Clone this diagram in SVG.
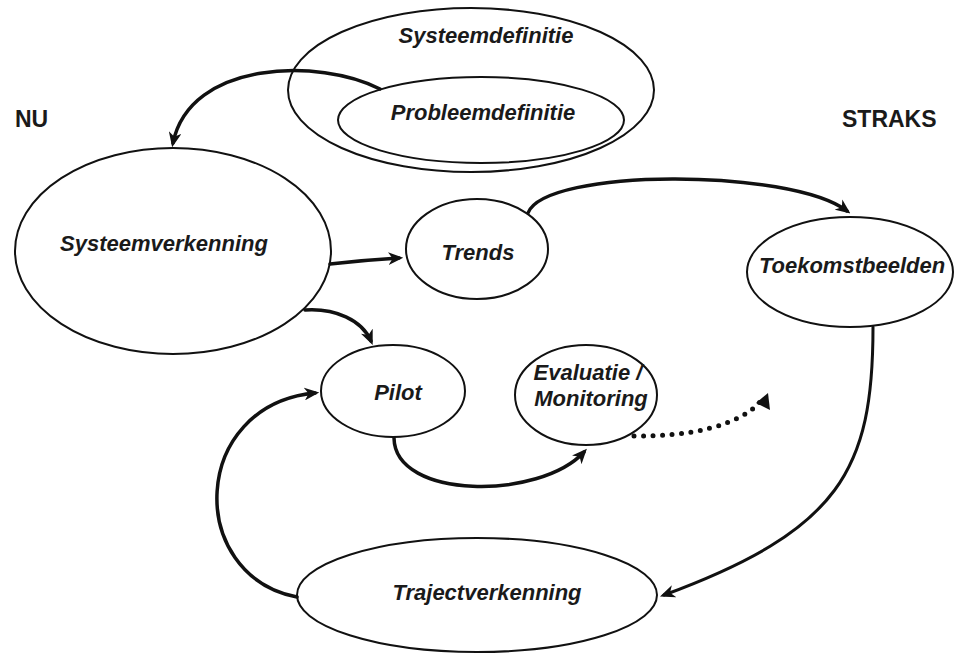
<svg xmlns="http://www.w3.org/2000/svg" width="955" height="653" viewBox="0 0 955 653">
<style>
.node{fill:none;stroke:#111;stroke-width:2}
.lbl{font-family:"Liberation Sans",Arial,sans-serif;font-weight:bold;font-style:italic;font-size:22px;fill:#1a1a1a;text-anchor:middle}
.side{font-family:"Liberation Sans",Arial,sans-serif;font-weight:bold;font-size:23px;fill:#1a1a1a}
.conn{fill:none;stroke:#111;stroke-width:3.5;stroke-linecap:round}
.dot{fill:none;stroke:#111;stroke-width:5;stroke-linecap:round;stroke-dasharray:0 9.5}
</style>
<defs>
<marker id="ah" viewBox="0 0 14 12" refX="10" refY="6" markerWidth="15" markerHeight="13" markerUnits="userSpaceOnUse" orient="auto">
<path d="M0,0 L14,6 L0,12 L4,6 z" fill="#111"/>
</marker>
</defs>
<rect width="955" height="653" fill="#fff"/>
<g id="nu"><text class="side" x="15" y="127">NU</text></g>
<g id="straks"><text class="side" x="842" y="127">STRAKS</text></g>
<g id="systeemdefinitie">
<ellipse class="node" cx="471" cy="90" rx="183" ry="82"/>
<text class="lbl" x="486" y="43">Systeemdefinitie</text>
</g>
<g id="probleemdefinitie">
<ellipse class="node" cx="481" cy="120" rx="143" ry="43"/>
<text class="lbl" x="483" y="120">Probleemdefinitie</text>
</g>
<g id="systeemverkenning">
<ellipse class="node" cx="173" cy="251" rx="158" ry="103"/>
<text class="lbl" x="164" y="251">Systeemverkenning</text>
</g>
<g id="trends">
<ellipse class="node" cx="477" cy="249" rx="71" ry="50"/>
<text class="lbl" x="478" y="260">Trends</text>
</g>
<g id="toekomstbeelden">
<ellipse class="node" cx="850" cy="272" rx="103" ry="55"/>
<text class="lbl" x="852" y="273">Toekomstbeelden</text>
</g>
<g id="pilot">
<ellipse class="node" cx="393" cy="391" rx="72" ry="46"/>
<text class="lbl" x="398" y="400">Pilot</text>
</g>
<g id="evaluatie">
<ellipse class="node" cx="586" cy="395" rx="71" ry="50"/>
<text class="lbl" x="588" y="380">Evaluatie /</text>
<text class="lbl" x="591" y="406">Monitoring</text>
</g>
<g id="trajectverkenning">
<ellipse class="node" cx="477" cy="595" rx="180" ry="57"/>
<text class="lbl" x="487" y="600">Trajectverkenning</text>
</g>
<g id="connectors">
<path class="conn" d="M380,89 C320,58 190,60 173,143" marker-end="url(#ah)"/>
<path class="conn" d="M330,264 Q365,260 399,258" marker-end="url(#ah)"/>
<path class="conn" d="M305,310 C335,308 362,320 371,341" marker-end="url(#ah)"/>
<path class="conn" d="M528,213 C545,168 790,168 847,211" marker-end="url(#ah)"/>
<path class="conn" style="stroke-width:3" d="M873,327 C873,470 840,530 664,595" marker-end="url(#ah)"/>
<path class="conn" d="M297,597 C185,575 190,405 315,393" marker-end="url(#ah)"/>
<path class="conn" d="M394,438 C395,500 540,500 584,452" marker-end="url(#ah)"/>
<path class="dot" d="M634,436 C690,437 740,425 760,402"/>
<path d="M768,393 L770,410 L756,403 z" fill="#111"/>
</g>
</svg>
